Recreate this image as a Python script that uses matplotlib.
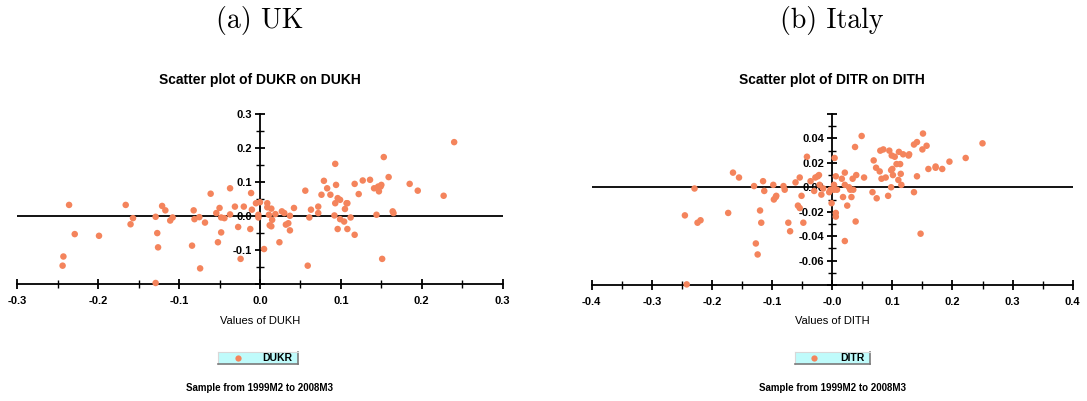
import numpy as np
import matplotlib
matplotlib.use("Agg")
import matplotlib.pyplot as plt
from matplotlib.ticker import MultipleLocator, FixedLocator

# UK: DUKH (x) vs DUKR (y)
uk_x = [-0.236, -0.229, -0.243, -0.244, -0.199, -0.166, -0.160, -0.157, -0.129, -0.127,
        -0.126, -0.129, -0.121, -0.117, -0.111, -0.108, -0.084, -0.082, -0.081, -0.075,
        -0.074, -0.068, -0.061, -0.054, -0.052, -0.050, -0.048, -0.048, -0.044, -0.037,
        -0.037, -0.031, -0.027, -0.024, -0.020, -0.012, -0.011, -0.010, -0.005, 0.000,
        -0.002, -0.002, 0.005, 0.009, 0.009, 0.011, 0.012, 0.014, 0.014, 0.015,
        0.019, 0.024, 0.027, 0.030, 0.032, 0.035, 0.037, 0.037, 0.042, 0.056,
        0.059, 0.061, 0.063, 0.072, 0.072, 0.076, 0.079, 0.083, 0.087, 0.093,
        0.094, 0.093, 0.092, 0.096, 0.096, 0.099, 0.099, 0.104, 0.105, 0.107,
        0.108, 0.108, 0.112, 0.117, 0.117, 0.122, 0.127, 0.136, 0.141, 0.144,
        0.146, 0.147, 0.149, 0.150, 0.153, 0.151, 0.159, 0.164, 0.165, 0.185,
        0.195, 0.227, 0.240]
uk_y = [0.033, -0.053, -0.119, -0.146, -0.058, 0.033, -0.024, -0.006, -0.002, -0.050,
        -0.092, -0.197, 0.030, 0.017, -0.013, -0.004, -0.087, 0.017, -0.009, -0.003,
        -0.154, -0.019, 0.066, 0.009, -0.077, 0.024, -0.048, -0.004, -0.006, 0.082,
        0.005, 0.028, -0.032, -0.126, 0.028, -0.038, 0.068, 0.019, 0.038, 0.041,
        0.004, -0.004, -0.097, 0.038, 0.026, 0.004, -0.027, 0.022, -0.030, -0.011,
        0.006, -0.077, 0.014, 0.009, -0.025, -0.021, -0.042, 0.001, 0.024, 0.075,
        -0.146, -0.004, 0.019, 0.028, 0.009, 0.063, 0.104, 0.082, 0.063, 0.154,
        0.092, 0.038, 0.002, 0.053, -0.038, 0.048, -0.009, -0.016, 0.021, 0.038,
        -0.038, 0.038, -0.004, 0.095, -0.055, 0.065, 0.105, 0.107, 0.082, 0.004,
        0.087, 0.073, 0.087, 0.092, 0.174, -0.126, 0.115, 0.014, 0.009, 0.095,
        0.075, 0.060, 0.218]

# Italy: DITH (x) vs DITR (y)
it_x = [-0.229, -0.245, -0.242, -0.224, -0.219, -0.173, -0.165, -0.155, -0.130, -0.120,
        -0.118, -0.115, -0.113, -0.127, -0.124, -0.098, -0.097, -0.094, -0.093, -0.081,
        -0.079, -0.073, -0.070, -0.061, -0.057, -0.054, -0.054, -0.051, -0.048, -0.042,
        -0.036, -0.030, -0.028, -0.024, -0.022, -0.018, -0.021, -0.015, -0.005, -0.003,
        -0.001, 0.003, 0.003, 0.004, 0.006, 0.006, 0.006, 0.008, 0.016, 0.018,
        0.021, 0.021, 0.021, 0.025, 0.028, 0.030, 0.032, 0.034, 0.035, 0.038,
        0.039, 0.040, 0.049, 0.053, 0.067, 0.069, 0.073, 0.074, 0.079, 0.080,
        0.082, 0.085, 0.089, 0.093, 0.095, 0.098, 0.099, 0.098, 0.100, 0.101,
        0.104, 0.107, 0.110, 0.111, 0.113, 0.114, 0.115, 0.118, 0.127, 0.128,
        0.136, 0.136, 0.141, 0.141, 0.147, 0.150, 0.151, 0.157, 0.160, 0.172,
        0.172, 0.183, 0.195, 0.222, 0.250]
it_y = [-0.001, -0.023, -0.0795, -0.029, -0.027, -0.021, 0.012, 0.008, 0.001, -0.019,
        -0.029, 0.005, -0.003, -0.046, -0.055, 0.002, -0.010, -0.008, -0.007, 0.001,
        -0.002, -0.029, -0.036, 0.004, -0.015, -0.017, 0.008, -0.007, -0.029, 0.025,
        0.005, -0.003, 0.008, 0.009, 0.010, -0.006, 0.002, -0.001, -0.004, -0.002,
        -0.013, 0.002, -0.002, 0.024, 0.009, -0.021, -0.024, -0.002, 0.007, -0.008,
        0.002, 0.012, -0.044, -0.015, 0.000, -0.002, -0.008, 0.007, -0.002, 0.033,
        -0.028, 0.010, 0.042, 0.008, -0.004, 0.022, 0.016, -0.009, 0.013, 0.030,
        0.007, 0.031, 0.008, -0.007, 0.030, 0.000, 0.026, 0.014, 0.015, 0.010,
        0.025, 0.019, 0.006, 0.029, 0.019, 0.011, 0.002, 0.027, 0.026, 0.027,
        -0.004, 0.035, 0.037, 0.009, -0.038, 0.031, 0.044, 0.034, 0.015, 0.016,
        0.017, 0.015, 0.021, 0.024, 0.036]

DOT = "#F4845C"
LEG_BG = "#BFFBFB"
TICKFONT = dict(family="Liberation Sans", weight="bold", size=8)

fig = plt.figure(figsize=(10.87, 4.01), dpi=100)


def panel(rect, x, y, xlim, ylim, xstep, ystep, yfmt, title, xlabel, sub, leg_rect, leg_name):
    ax = fig.add_axes(rect)
    ax.set_xlim(*xlim)
    ax.set_ylim(*ylim)
    ax.scatter(x, y, s=22, color=DOT, edgecolors="none", zorder=3, clip_on=False)
    ax.axhline(0, color="black", lw=1.3, zorder=2)

    for s in ["top", "right"]:
        ax.spines[s].set_visible(False)
    ax.spines["left"].set_position(("data", 0))
    ax.spines["left"].set_linewidth(1.3)
    ax.spines["bottom"].set_linewidth(1.3)

    xt = np.round(np.arange(xlim[0], xlim[1] + 1e-9, xstep), 3)
    ax.xaxis.set_major_locator(FixedLocator(xt))
    ax.xaxis.set_minor_locator(MultipleLocator(xstep / 2))
    ax.set_xticklabels([f"{v:.1f}" for v in xt])

    yt = np.round(np.arange(ylim[0], ylim[1] + 1e-9, ystep), 3)
    ax.yaxis.set_major_locator(FixedLocator(yt))
    ax.yaxis.set_minor_locator(MultipleLocator(ystep / 2))
    ylabels = [yfmt.format(v) if 0 < i < len(yt) - 1 or (i == len(yt) - 1 and title.startswith("Scatter plot of DUKR")) else ""
               for i, v in enumerate(yt)]
    ax.set_yticklabels(ylabels)

    ax.tick_params(which="major", direction="inout", length=7, width=1.3, pad=2)
    ax.tick_params(which="minor", direction="inout", length=6, width=1.0)
    ax.tick_params(axis="x", which="major", pad=5)
    for lab in ax.get_xticklabels() + ax.get_yticklabels():
        lab.set_fontproperties(matplotlib.font_manager.FontProperties(**TICKFONT))

    cx = rect[0] + rect[2] * (0 - xlim[0]) / (xlim[1] - xlim[0])
    fig.text(cx, 0.95, sub, ha="center", va="center", family="cmr10", size=20)
    fig.text(cx, 0.80, title, ha="center", va="center", family="Liberation Sans",
             weight="bold", size=10)
    fig.text(cx, 0.20, xlabel, ha="center", va="center", family="Liberation Sans", size=8)
    fig.text(cx, 0.032, "Sample from 1999M2 to 2008M3", ha="center", va="center",
             family="Liberation Sans", weight="bold", size=7)

    lg = fig.add_axes(leg_rect)
    lg.set_facecolor(LEG_BG)
    lg.set_xticks([])
    lg.set_yticks([])
    lg.set_xlim(0, 1)
    lg.set_ylim(0, 1)
    for s in ["top", "left"]:
        lg.spines[s].set_color("#d8d8d8")
    for s in ["bottom", "right"]:
        lg.spines[s].set_color("#7a7a7a")
        lg.spines[s].set_linewidth(1.2)
    lg.plot([0.25], [0.5], "o", color=DOT, ms=4.5, mec="none")
    lg.text(0.93, 0.5, leg_name, ha="right", va="center", family="Liberation Sans",
            weight="bold", size=7.5)
    return ax


panel([17.3 / 1087, 1 - 284 / 401, 485.4 / 1087, 169.7 / 401],
      uk_x, uk_y, (-0.3, 0.3), (-0.2, 0.3), 0.1, 0.1, "{:.1f}",
      "Scatter plot of DUKR on DUKH", "Values of DUKH", "(a) UK",
      [218 / 1087, 1 - 364 / 401, 80 / 1087, 12 / 401], "DUKR")

panel([591.7 / 1087, 1 - 285 / 401, 481 / 1087, 171 / 401],
      it_x, it_y, (-0.4, 0.4), (-0.08, 0.06), 0.1, 0.02, "{:.2f}",
      "Scatter plot of DITR on DITH", "Values of DITH", "(b) Italy",
      [795 / 1087, 1 - 364 / 401, 75 / 1087, 12 / 401], "DITR")

fig.savefig("out.png", dpi=100)
